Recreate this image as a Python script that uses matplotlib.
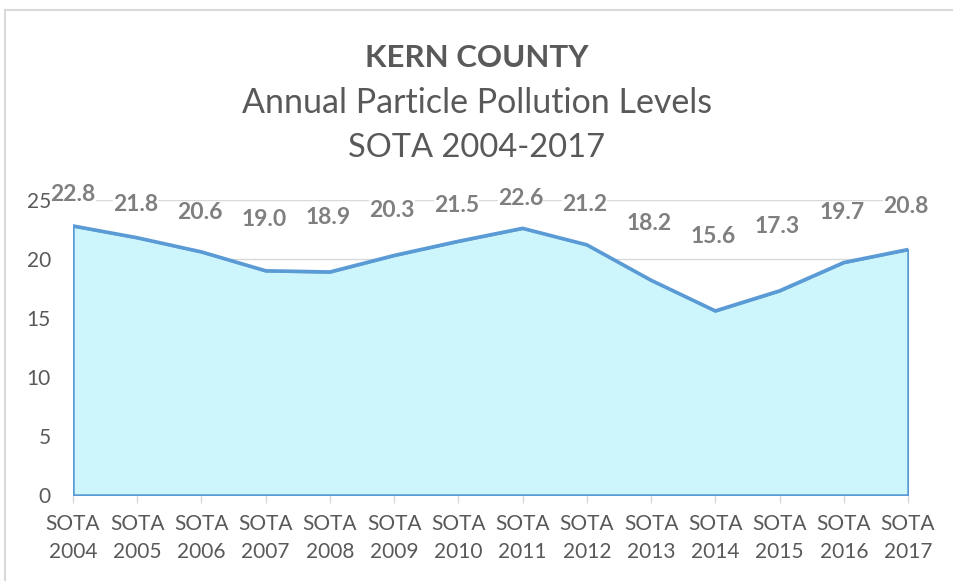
import matplotlib
matplotlib.use("Agg")
import matplotlib.pyplot as plt
from matplotlib.lines import Line2D

plt.rcParams['font.family'] = ['Lato', 'DejaVu Sans']

# data
years = ['2004', '2005', '2006', '2007', '2008', '2009', '2010',
         '2011', '2012', '2013', '2014', '2015', '2016', '2017']
pm_levels = [22.8, 21.8, 20.6, 19.0, 18.9, 20.3, 21.5,
             22.6, 21.2, 18.2, 15.6, 17.3, 19.7, 20.8]
tick_labels = ['SOTA\n' + y for y in years]
y_ticks = [0, 5, 10, 15, 20, 25]

# label lift above each point, in pixels (layout only)
label_lift = [31, 33, 39, 51, 54, 45, 36, 30, 40, 57, 74, 64, 50, 43]

TEXT = '#595959'
LABEL = '#7f7f7f'
LINE = '#5b9bd5'
FILL = '#ccf5fc'
GRID = '#d9d9d9'

fig = plt.figure(figsize=(9.54, 5.81), dpi=100)
ax = fig.add_axes([73 / 954, 1 - 495 / 581, (908 - 73) / 954, (495 - 200) / 581])

x = list(range(len(years)))
ax.fill_between(x, pm_levels, 0, facecolor=FILL, edgecolor=LINE, linewidth=1.8, zorder=2)
ax.plot(x, pm_levels, color=LINE, linewidth=2.6, solid_joinstyle='round', zorder=3)

for i, v in enumerate(pm_levels):
    dx = 0 if i == 0 else -2
    ax.annotate(f'{v:.1f}', (i, v), xytext=(dx, label_lift[i]), textcoords='offset pixels',
                ha='center', va='center', fontsize=16.5, fontweight='bold', color=LABEL,
                bbox=dict(boxstyle='square,pad=0.0', facecolor='white', edgecolor='none'),
                zorder=5, annotation_clip=False)

ax.set_xlim(0, len(years) - 1)
ax.set_ylim(0, 25)
ax.set_yticks(y_ticks)
ax.set_xticks(x)
ax.set_xticklabels(tick_labels, linespacing=1.45)
ax.tick_params(axis='y', length=0, pad=16, labelsize=15, labelcolor=TEXT)
ax.tick_params(axis='x', length=6, width=1, color=GRID, pad=8, labelsize=15, labelcolor=TEXT)
ax.grid(axis='y', color=GRID, linewidth=1, zorder=0)
ax.set_axisbelow(True)
for s in ax.spines.values():
    s.set_visible(False)

fig.text(0.5, 1 - 58 / 581, 'KERN COUNTY', ha='center', va='center',
         fontsize=22.5, fontweight='bold', color=TEXT)
fig.text(0.5, 1 - 103 / 581, 'Annual Particle Pollution Levels', ha='center', va='center',
         fontsize=24.5, color=TEXT)
fig.text(0.5, 1 - 148 / 581, 'SOTA 2004-2017', ha='center', va='center',
         fontsize=23.5, color=TEXT)

# chart frame (top and left edges visible)
fig.add_artist(Line2D([5 / 954, 1], [1 - 10 / 581, 1 - 10 / 581], color=GRID, linewidth=1.5))
fig.add_artist(Line2D([5 / 954, 5 / 954], [0, 1 - 10 / 581], color=GRID, linewidth=1.5))

fig.savefig('out.png', dpi=100)
